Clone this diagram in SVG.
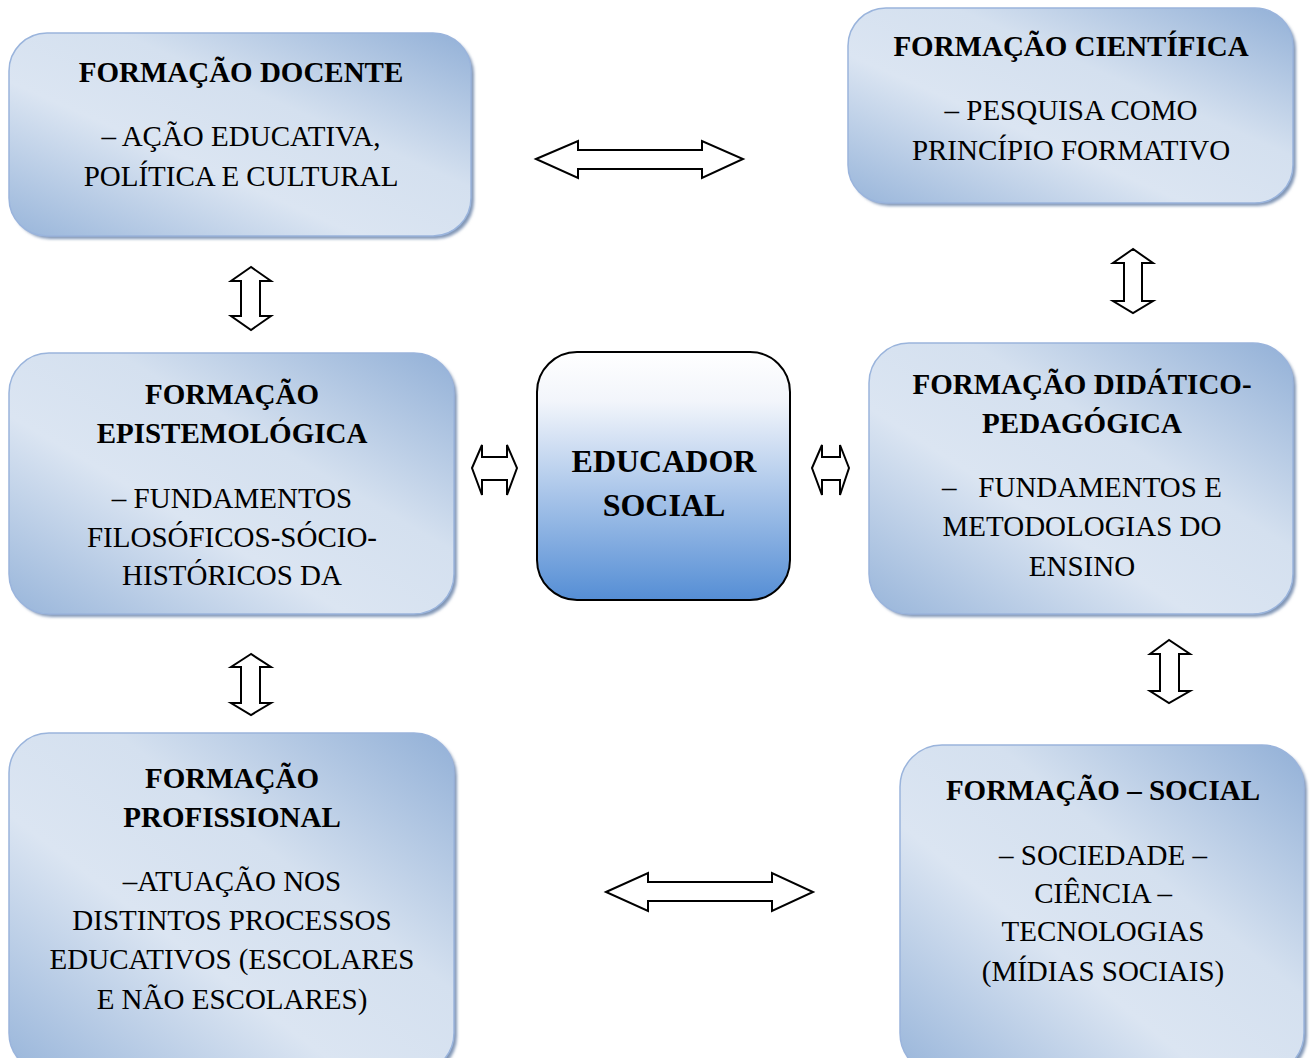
<svg xmlns="http://www.w3.org/2000/svg" width="1311" height="1058" viewBox="0 0 1311 1058">
<defs>
<linearGradient id="boxGrad" x1="0" y1="1" x2="1" y2="0">
<stop offset="0" stop-color="#98b5da"/>
<stop offset="0.38" stop-color="#dbe5f2"/>
<stop offset="0.62" stop-color="#d4e0ef"/>
<stop offset="1" stop-color="#92b0d7"/>
</linearGradient>
<linearGradient id="centerGrad" x1="0" y1="0" x2="0" y2="1">
<stop offset="0" stop-color="#ffffff"/>
<stop offset="0.2" stop-color="#f2f5fb"/>
<stop offset="1" stop-color="#558ed5"/>
</linearGradient>
<filter id="shadow" x="-5%" y="-5%" width="110%" height="110%">
<feGaussianBlur stdDeviation="1.5"/>
</filter>
</defs>
<style>
.shd{fill:#8196b6;filter:url(#shadow)}
.box{fill:url(#boxGrad);stroke:#9ab4dc;stroke-width:1.5}
.ctr{fill:url(#centerGrad);stroke:#000;stroke-width:2}
.t{font-family:"Liberation Serif","Times New Roman",serif;font-size:29px;fill:#000;text-anchor:middle}
.b{font-weight:bold}
.c{font-size:32px}
.arr{fill:#fff;stroke:#000;stroke-width:2;stroke-linejoin:miter}
</style>
<rect width="1311" height="1058" fill="#fff"/>

<g id="connectors">
<polygon class="arr" points="536,159 578,141 578,150 702,150 702,141 743,159 702,178 702,169 578,169 578,178"/>
<polygon class="arr" points="606,892 648,873 648,882 772,882 772,873 813,892 772,911 772,901 648,901 648,911"/>
<polygon class="arr" points="251,267 231,281 241,281 241,316 231,316 251,330 271,316 260,316 260,281 271,281"/>
<polygon class="arr" points="1133,249 1113,263 1124,263 1124,301 1113,301 1133,313 1153,301 1142,301 1142,263 1153,263"/>
<polygon class="arr" points="251,654 231,667 241,667 241,703 231,703 251,715 271,703 260,703 260,667 271,667"/>
<polygon class="arr" points="1169,640 1150,654 1160,654 1160,691 1150,691 1169,703 1190,691 1179,691 1179,654 1190,654"/>
<polygon class="arr" points="472,468 482,445 482,457 507,457 507,445 517,468 507,495 507,480 482,480 482,495"/>
<polygon class="arr" points="812,468 822,445 822,457 840,457 840,445 849,468 840,495 840,480 822,480 822,495"/>
</g>

<g id="docente">
<rect class="shd" x="12" y="36" width="462" height="203" rx="38"/>
<rect class="box" x="9" y="33" width="462" height="203" rx="38"/>
<text class="t b" x="241" y="82">FORMAÇÃO DOCENTE</text>
<text class="t" x="241" y="146">– AÇÃO EDUCATIVA,</text>
<text class="t" x="241" y="186">POLÍTICA E CULTURAL</text>
</g>

<g id="cientifica">
<rect class="shd" x="851" y="11" width="445" height="195" rx="38"/>
<rect class="box" x="848" y="8" width="445" height="195" rx="38"/>
<text class="t b" x="1071" y="56">FORMAÇÃO CIENTÍFICA</text>
<text class="t" x="1071" y="120">– PESQUISA COMO</text>
<text class="t" x="1071" y="160">PRINCÍPIO FORMATIVO</text>
</g>

<g id="epistemologica">
<rect class="shd" x="12" y="356" width="445" height="261" rx="40"/>
<rect class="box" x="9" y="353" width="445" height="261" rx="40"/>
<text class="t b" x="232" y="404">FORMAÇÃO</text>
<text class="t b" x="232" y="443">EPISTEMOLÓGICA</text>
<text class="t" x="232" y="508">– FUNDAMENTOS</text>
<text class="t" x="232" y="547">FILOSÓFICOS-SÓCIO-</text>
<text class="t" x="232" y="585">HISTÓRICOS DA</text>
</g>

<g id="educador">
<rect class="ctr" x="537" y="352" width="253" height="248" rx="40"/>
<text class="t b c" x="664" y="472">EDUCADOR</text>
<text class="t b c" x="664" y="516">SOCIAL</text>
</g>

<g id="didatico">
<rect class="shd" x="872" y="346" width="424" height="271" rx="40"/>
<rect class="box" x="869" y="343" width="424" height="271" rx="40"/>
<text class="t b" x="1082" y="394">FORMAÇÃO DIDÁTICO-</text>
<text class="t b" x="1082" y="433">PEDAGÓGICA</text>
<text class="t" x="1082" y="497" xml:space="preserve">–   FUNDAMENTOS E</text>
<text class="t" x="1082" y="536">METODOLOGIAS DO</text>
<text class="t" x="1082" y="576">ENSINO</text>
</g>

<g id="profissional">
<rect class="shd" x="12" y="736" width="445" height="340" rx="40"/>
<rect class="box" x="9" y="733" width="445" height="340" rx="40"/>
<text class="t b" x="232" y="788">FORMAÇÃO</text>
<text class="t b" x="232" y="827">PROFISSIONAL</text>
<text class="t" x="232" y="891">–ATUAÇÃO NOS</text>
<text class="t" x="232" y="930">DISTINTOS PROCESSOS</text>
<text class="t" x="232" y="969">EDUCATIVOS (ESCOLARES</text>
<text class="t" x="232" y="1009">E NÃO ESCOLARES)</text>
</g>

<g id="social">
<rect class="shd" x="903" y="748" width="404" height="330" rx="42"/>
<rect class="box" x="900" y="745" width="404" height="330" rx="42"/>
<text class="t b" x="1103" y="800">FORMAÇÃO – SOCIAL</text>
<text class="t" x="1103" y="865">– SOCIEDADE –</text>
<text class="t" x="1103" y="903">CIÊNCIA –</text>
<text class="t" x="1103" y="941">TECNOLOGIAS</text>
<text class="t" x="1103" y="981">(MÍDIAS SOCIAIS)</text>
</g>
</svg>
